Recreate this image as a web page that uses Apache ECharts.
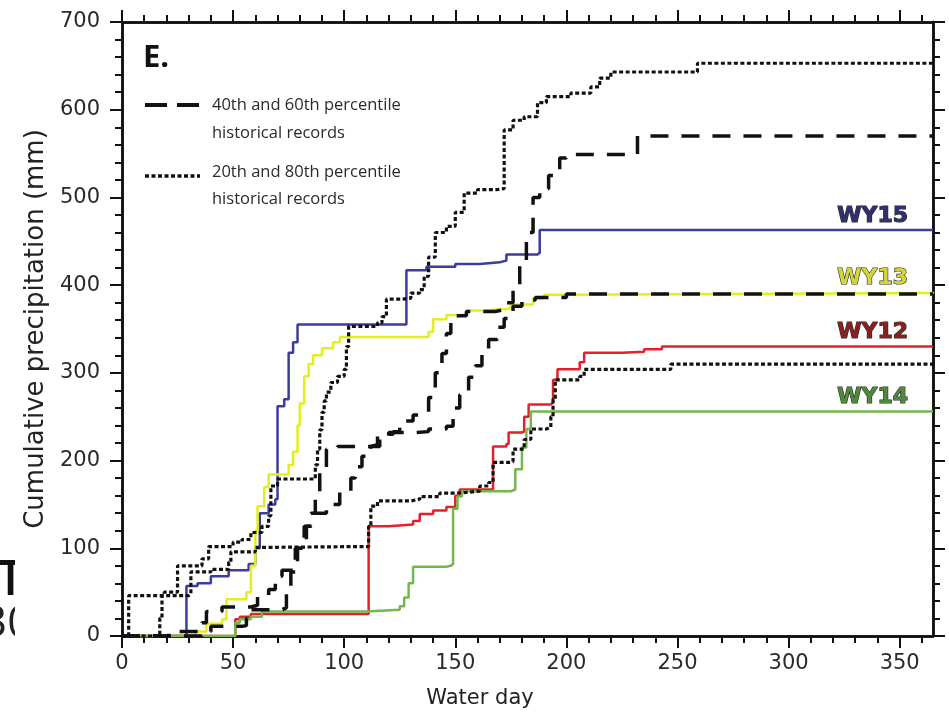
<!DOCTYPE html>
<html>
<head>
<meta charset="utf-8">
<script src="https://cdn.jsdelivr.net/npm/echarts@6/dist/echarts.min.js"></script>
<style>
  html, body { margin: 0; padding: 0; background: #fff; }
  #chart { width: 949px; height: 714px; }
</style>
</head>
<body>
<div id="chart"></div>
<script>
// Cumulative precipitation by water day: step series [day, mm]
const wy15 = [[0,0],[28,0],[29,57],[34,60],[40,68],[48,75],[57,82],[60,100],[62,140],[66,150],[69,156],[70,262],[73,270],[75,323],[77,335],[79,355],[127,355],[128,417],[137,421],[150,424],[161,426],[170,428],[173,435],[187,437],[188,463],[365,463]];
const wy13 = [[0,0],[32,0],[33,5],[38,14],[45,19],[47,42],[56,50],[58,80],[60,120],[61,148],[64,170],[66,184],[72,184],[75,195],[77,210],[79,240],[80,265],[82,296],[84,310],[86,320],[90,328],[95,335],[98,341],[138,347],[140,361],[146,366],[155,371],[162,373],[175,378],[185,385],[190,389],[200,391],[365,392]];
const wy12 = [[0,0],[50,0],[51,19],[53,22],[58,25],[110,25],[111,125],[120,127],[131,131],[134,139],[140,143],[146,147],[150,160],[152,167],[166,167],[167,216],[173,219],[174,232],[180,233],[181,250],[183,264],[193,266],[194,292],[196,304],[206,312],[208,323],[225,324],[235,327],[243,330],[365,330]];
const wy14 = [[0,0],[50,0],[51,15],[53,19],[58,22],[63,28],[110,30],[125,34],[127,44],[129,60],[131,79],[146,80],[148,82],[149,145],[151,159],[153,165],[175,167],[177,190],[180,215],[182,236],[184,256],[365,256]];

// Historical percentiles
const p40 = [[0,0],[20,0],[21,5],[38,5],[40,11],[54,12],[56,20],[58,30],[72,32],[74,57],[76,73],[79,100],[83,125],[86,140],[92,150],[98,165],[103,180],[105,193],[108,205],[112,216],[116,228],[120,232],[132,233],[138,236],[146,239],[149,260],[152,275],[156,295],[159,308],[162,326],[165,338],[169,352],[172,362],[176,376],[180,383],[186,386],[200,390],[365,390]];
const p60 = [[0,0],[34,0],[36,15],[38,28],[45,33],[58,35],[61,45],[66,53],[69,68],[72,75],[78,100],[82,125],[85,140],[87,165],[89,190],[92,213],[97,216],[112,218],[115,230],[122,233],[125,245],[131,252],[136,253],[138,272],[141,300],[144,322],[146,345],[148,365],[155,370],[168,372],[172,380],[176,400],[179,425],[182,460],[185,500],[188,510],[192,525],[197,545],[200,549],[230,549],[232,570],[365,570]];
const p20 = [[0,0],[16,0],[17,20],[18,46],[30,48],[31,73],[40,76],[48,84],[49,96],[60,101],[62,102],[110,102],[111,125],[112,148],[115,154],[130,156],[134,159],[143,163],[151,165],[161,171],[163,171],[165,175],[167,198],[175,199],[176,213],[181,224],[184,236],[191,238],[193,250],[194,270],[195,292],[206,296],[208,304],[246,304],[247,310],[365,310]];
const p80 = [[0,0],[2,0],[3,46],[18,46],[19,50],[24,50],[25,80],[34,80],[36,88],[39,102],[50,107],[54,110],[58,118],[63,125],[66,137],[67,171],[70,179],[86,179],[87,195],[88,213],[89,235],[90,255],[91,268],[92,278],[94,289],[97,296],[100,304],[101,330],[102,353],[115,357],[117,364],[119,384],[126,385],[130,391],[134,395],[136,410],[138,432],[141,460],[146,467],[150,483],[154,505],[160,509],[169,510],[172,577],[176,588],[181,592],[187,608],[191,615],[202,619],[211,626],[215,636],[220,643],[256,643],[259,653],[365,653]];

const xMajor = [0, 50, 100, 150, 200, 250, 300, 350];
const xMinor = [10,20,30,40,60,70,80,90,110,120,130,140,160,170,180,190,210,220,230,240,260,270,280,290,310,320,330,340,360];
const yMajor = [0, 100, 200, 300, 400, 500, 600, 700];
const yMinor = [20,40,60,80,120,140,160,180,220,240,260,280,320,340,360,380,420,440,460,480,520,540,560,580,620,640,660,680];

const ink = '#111';
const sansWide = '"DejaVu Sans", Verdana, sans-serif';
const tickFont = { color: '#2a2a2a', fontSize: 21, fontFamily: sansWide };

function xAx(pos, values, len, labels, extra) {
  return Object.assign({
    type: 'value', position: pos, min: 0, max: 365,
    axisLine: { show: true, onZero: false, lineStyle: { color: ink, width: 2.5 } },
    axisTick: { show: true, customValues: values, length: len, lineStyle: { color: ink, width: 2 } },
    axisLabel: labels ? Object.assign({ customValues: values, margin: 17 }, tickFont) : { show: false },
    splitLine: { show: false }
  }, extra || {});
}
function yAx(pos, values, len, labels, extra) {
  return Object.assign({
    type: 'value', position: pos, min: 0, max: 700,
    axisLine: { show: true, onZero: false, lineStyle: { color: ink, width: 2.5 } },
    axisTick: { show: true, customValues: values, length: len, lineStyle: { color: ink, width: 2 } },
    axisLabel: labels ? Object.assign({ customValues: values, margin: 22 }, tickFont) : { show: false },
    splitLine: { show: false }
  }, extra || {});
}

function yearSeries(name, data, color, labelColor) {
  return {
    name: name, type: 'line', step: 'end', data: data, symbol: 'none', z: 3,
    lineStyle: { color: color, width: 2.5 },
    endLabel: {
      show: true, formatter: name, align: 'right', verticalAlign: 'bottom', offset: [-33, -3],
      color: labelColor, fontSize: 22, fontWeight: 'bold',
      fontFamily: sansWide,
      textBorderColor: '#2a2a2a', textBorderWidth: 1.2
    }
  };
}
function pctSeries(name, data, dash, width) {
  return {
    name: name, type: 'line', step: 'end', data: data, symbol: 'none', z: 4,
    lineStyle: { color: ink, width: width, type: dash }
  };
}

const chart = echarts.init(document.getElementById('chart'), null, { renderer: 'canvas' });
chart.setOption({
  animation: false,
  backgroundColor: '#fff',
  grid: { left: 122, right: 16, top: 22, bottom: 77, containLabel: false },
  xAxis: [
    xAx('bottom', xMajor, 12, true, {
      name: 'Water day', nameLocation: 'middle', nameGap: 52,
      nameTextStyle: { color: '#222', fontSize: 21, fontFamily: sansWide, padding: [0, 95, 0, 0] }
    }),
    xAx('bottom', xMinor, 7, false),
    xAx('top', xMajor, 12, false),
    xAx('top', xMinor, 7, false)
  ],
  yAxis: [
    yAx('left', yMajor, 12, true, {
      name: 'Cumulative precipitation (mm)', nameLocation: 'middle', nameGap: 72, nameRotate: 90,
      nameTextStyle: { color: '#222', fontSize: 26, fontFamily: sansWide }
    }),
    yAx('left', yMinor, 7, false),
    yAx('right', yMajor, 12, false),
    yAx('right', yMinor, 7, false)
  ],
  series: [
    yearSeries('WY15', wy15, '#3b3c9c', '#2e3070'),
    yearSeries('WY13', wy13, '#e4ee1c', '#d2d63a'),
    yearSeries('WY12', wy12, '#e3202b', '#8a1f1f'),
    yearSeries('WY14', wy14, '#72b84c', '#4f8a3a'),
    pctSeries('40th percentile', p40, [18, 13], 3.5),
    pctSeries('60th percentile', p60, [18, 13], 3.5),
    pctSeries('20th percentile', p20, [4, 2.5], 3.2),
    pctSeries('80th percentile', p80, [4, 2.5], 3.2)
  ],
  graphic: [
    { type: 'text', x: 143, y: 58, z: 10, style: { text: 'E.', font: 'bold 31px "Open Sans", sans-serif', fill: '#111', verticalAlign: 'middle' } },
    { type: 'line', z: 10, shape: { x1: 145, y1: 105, x2: 200, y2: 105 }, style: { stroke: ink, lineWidth: 4, lineDash: [22, 10] } },
    { type: 'line', z: 10, shape: { x1: 145, y1: 176, x2: 200, y2: 176 }, style: { stroke: ink, lineWidth: 3.5, lineDash: [4, 2.5] } },
    { type: 'text', x: 212, y: 105, z: 10, style: { text: '40th and 60th percentile', font: '16.5px "Open Sans", sans-serif', fill: '#2a2a2a', verticalAlign: 'middle' } },
    { type: 'text', x: 212, y: 133, z: 10, style: { text: 'historical records', font: '16.5px "Open Sans", sans-serif', fill: '#2a2a2a', verticalAlign: 'middle' } },
    { type: 'text', x: 212, y: 172, z: 10, style: { text: '20th and 80th percentile', font: '16.5px "Open Sans", sans-serif', fill: '#2a2a2a', verticalAlign: 'middle' } },
    { type: 'text', x: 212, y: 199, z: 10, style: { text: 'historical records', font: '16.5px "Open Sans", sans-serif', fill: '#2a2a2a', verticalAlign: 'middle' } },
    // neighbouring panel's heading, cut off at the panel edge
    { type: 'text', x: 10.5, y: 581, z: 1, style: { text: 'T', font: '600 48px "Open Sans", sans-serif', fill: '#111', align: 'center', verticalAlign: 'middle' } },
    { type: 'text', x: -18, y: 624, z: 1, style: { text: '30', font: '44px "Open Sans", sans-serif', fill: '#222', verticalAlign: 'middle' } },
    { type: 'rect', z: 2, shape: { x: 15, y: 545, width: 36, height: 110 }, style: { fill: '#fff' } }
  ]
});
</script>
</body>
</html>
